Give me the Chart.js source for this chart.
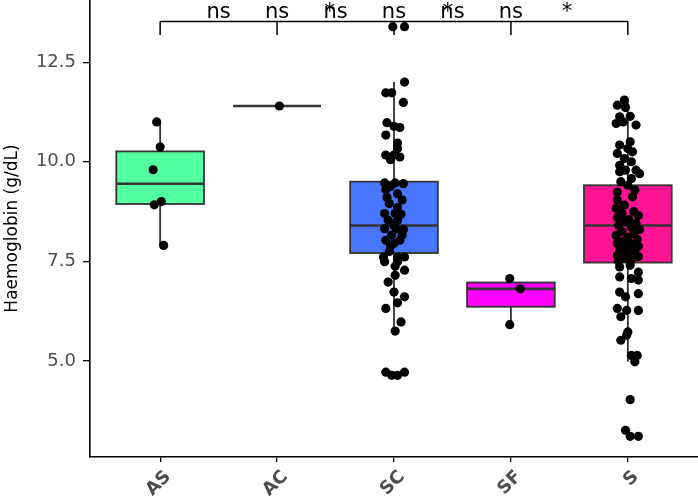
<!DOCTYPE html>
<html>
<head>
<meta charset="utf-8">
<script src="https://cdn.jsdelivr.net/npm/chart.js@4.4.1/dist/chart.umd.min.js"></script>
<style>
  body { margin: 0; background: #fff; }
  #wrap { width: 698px; height: 496px; }
</style>
</head>
<body>
<div id="wrap"><canvas id="grafico" width="698" height="496"></canvas></div>
<script>
// ===== dados =====
const categorias = ['AS', 'AC', 'SC', 'SF', 'S'];
const coresCaixa = ['#54FF9F', '#FFD700', '#4876FF', '#FF00FF', '#FF1493'];

// estatisticas das caixas
const q1 = [8.94, 11.40, 7.71, 6.36, 7.47];
const mediana = [9.45, 11.40, 8.40, 6.81, 8.40];
const q3 = [10.26, 11.40, 9.50, 6.97, 9.41];
const bigodeMin = [7.90, 11.40, 5.75, 5.91, 4.98];
const bigodeMax = [11.00, 11.40, 12.00, 7.07, 11.55];

const yTicks = [5.0, 7.5, 10.0, 12.5];

// pontos: [hemoglobina, jitter]
const pontosAS = [[11.00, -0.03], [10.37, 0.00], [9.80, -0.06], [9.00, 0.01], [8.92, -0.05], [7.90, 0.03]];
const pontosAC = [[11.40, 0.02]];
const pontosSC = [
  [13.39, -0.01], [13.39, 0.09], [12.00, 0.09], [11.73, -0.07], [11.73, -0.02], [11.49, 0.08],
  [10.98, -0.06], [10.89, 0.00], [10.86, 0.05], [10.67, -0.07], [10.47, 0.03], [10.33, 0.03],
  [10.17, -0.07], [10.17, 0.00], [10.12, 0.05], [10.05, -0.03], [9.47, -0.08], [9.47, 0.01],
  [9.45, 0.08], [9.38, -0.03], [9.30, -0.07], [9.20, 0.03], [9.10, -0.06], [9.04, 0.07],
  [8.95, -0.04], [8.85, 0.03], [8.70, -0.08], [8.70, 0.01], [8.68, 0.06], [8.53, -0.05],
  [8.53, 0.03], [8.40, 0.00], [8.32, -0.08], [8.32, 0.02], [8.30, 0.08], [8.16, -0.02],
  [8.16, 0.07], [8.03, -0.07], [8.03, 0.05], [7.95, 0.00], [7.88, -0.03], [7.75, -0.04],
  [7.61, -0.09], [7.61, 0.03], [7.61, 0.09], [7.49, -0.08], [7.49, 0.03], [7.38, 0.01],
  [7.28, 0.09], [7.15, 0.01], [6.98, -0.05], [6.73, 0.00], [6.61, 0.09], [6.46, 0.03],
  [6.32, -0.07], [5.98, 0.06], [5.75, 0.01], [4.72, -0.07], [4.64, -0.02], [4.64, 0.03],
  [4.72, 0.09]
];
const pontosSF = [[7.07, -0.01], [6.81, 0.08], [5.91, -0.01]];
const pontosS = [
  [11.55, -0.03], [11.42, -0.09], [11.36, -0.02], [11.13, -0.07], [11.14, 0.02], [10.96, -0.10],
  [11.00, -0.04], [10.92, 0.07], [10.50, 0.02], [10.42, -0.07], [10.33, 0.00], [10.21, -0.09],
  [10.25, 0.04], [10.08, -0.03], [9.91, -0.07], [10.00, 0.03], [9.79, 0.07], [9.79, -0.02],
  [9.75, -0.07], [9.70, 0.10], [9.58, 0.03], [9.50, -0.06], [9.41, 0.00], [9.29, 0.06],
  [9.24, -0.09], [9.12, 0.04], [9.04, -0.09], [8.91, -0.03], [8.83, -0.10], [8.75, 0.05],
  [8.70, -0.05], [8.65, 0.09], [8.60, -0.09], [8.55, 0.01], [8.50, -0.03], [8.45, 0.07],
  [8.40, -0.08], [8.35, 0.03], [8.30, 0.10], [8.25, -0.05], [8.20, 0.05], [8.15, -0.10],
  [8.10, 0.00], [8.05, 0.08], [8.00, -0.04], [7.95, -0.09], [7.92, 0.03], [7.88, 0.09],
  [7.83, -0.02], [7.78, -0.07], [7.75, 0.06], [7.70, 0.00], [7.65, -0.09], [7.62, 0.09],
  [7.58, -0.03], [7.54, 0.03], [7.50, -0.08], [7.40, 0.02], [7.36, -0.07], [7.23, 0.09],
  [7.11, -0.07], [7.07, 0.03], [7.03, 0.09], [6.73, -0.07], [6.61, -0.02], [6.69, 0.09],
  [6.32, -0.09], [6.27, -0.01], [6.27, 0.09], [6.11, -0.06], [5.73, 0.00], [5.65, -0.01],
  [5.52, -0.06], [5.14, 0.03], [5.14, 0.08], [4.98, 0.06], [4.03, 0.02], [3.26, -0.02],
  [3.11, 0.02], [3.11, 0.09]
];
const grupos = [pontosAS, pontosAC, pontosSC, pontosSF, pontosS];

// comparacoes (posicao x, texto)
const sigLinhaY = 13.52;
const sigTickY = 13.18;
const sigTextoY = 13.60;
const sigRotulos = [[1.5, 'ns'], [2, 'ns'], [2.5, 'ns'], [2.45, '*'], [3, 'ns'], [3.5, 'ns'], [3.46, '*'], [4, 'ns'], [4.48, '*']];

const larguraCaixa = 0.75;
const fonte = '"DejaVu Sans", Verdana, sans-serif';

/* =========================
   PLUGIN BOXPLOT
========================= */
const boxplotPlugin = {
  id: 'boxplot',
  beforeDatasetsDraw(chart) {
    const { ctx, scales: { x, y } } = chart;
    ctx.save();
    categorias.forEach((c, i) => {
      const cx = x.getPixelForValue(i + 1);
      const x0 = x.getPixelForValue(i + 1 - larguraCaixa / 2);
      const x1 = x.getPixelForValue(i + 1 + larguraCaixa / 2);
      ctx.strokeStyle = '#333333';
      // bigodes
      ctx.lineWidth = 1.8;
      ctx.beginPath();
      ctx.moveTo(cx, y.getPixelForValue(q3[i]));
      ctx.lineTo(cx, y.getPixelForValue(bigodeMax[i]));
      ctx.moveTo(cx, y.getPixelForValue(q1[i]));
      ctx.lineTo(cx, y.getPixelForValue(bigodeMin[i]));
      ctx.stroke();
      // caixa
      const yTop = y.getPixelForValue(q3[i]);
      const yBot = y.getPixelForValue(q1[i]);
      ctx.fillStyle = coresCaixa[i];
      ctx.fillRect(x0, yTop, x1 - x0, yBot - yTop);
      ctx.lineWidth = 1.8;
      ctx.strokeRect(x0, yTop, x1 - x0, yBot - yTop);
      // mediana
      ctx.lineWidth = 2.6;
      ctx.beginPath();
      ctx.moveTo(x0, y.getPixelForValue(mediana[i]));
      ctx.lineTo(x1, y.getPixelForValue(mediana[i]));
      ctx.stroke();
    });
    ctx.restore();
  },
  afterDatasetsDraw(chart) {
    const { ctx, scales: { x, y } } = chart;
    ctx.save();
    // colchete de significancia
    ctx.strokeStyle = '#000';
    ctx.lineWidth = 1.5;
    ctx.beginPath();
    ctx.moveTo(x.getPixelForValue(1), y.getPixelForValue(sigLinhaY));
    ctx.lineTo(x.getPixelForValue(5), y.getPixelForValue(sigLinhaY));
    categorias.forEach((c, i) => {
      ctx.moveTo(x.getPixelForValue(i + 1), y.getPixelForValue(sigLinhaY));
      ctx.lineTo(x.getPixelForValue(i + 1), y.getPixelForValue(sigTickY));
    });
    ctx.stroke();
    ctx.fillStyle = '#000';
    ctx.font = '21px ' + fonte;
    ctx.textAlign = 'center';
    ctx.textBaseline = 'alphabetic';
    sigRotulos.forEach(([pos, txt]) => {
      ctx.fillText(txt, x.getPixelForValue(pos), y.getPixelForValue(sigTextoY));
    });
    ctx.restore();
  },
  afterDraw(chart) {
    // rotulos do eixo x, girados 45 graus
    const { ctx, scales: { x } } = chart;
    ctx.save();
    ctx.fillStyle = '#4d4d4d';
    ctx.font = 'bold 18px ' + fonte;
    ctx.textAlign = 'right';
    ctx.textBaseline = 'middle';
    categorias.forEach((c, i) => {
      ctx.save();
      ctx.translate(x.getPixelForValue(i + 1) + 8, x.top + 17);
      ctx.rotate(-Math.PI / 4);
      ctx.fillText(c, 0, 0);
      ctx.restore();
    });
    ctx.restore();
  }
};

const datasets = grupos.map((pts, i) => ({
  label: categorias[i],
  data: pts.map(p => ({ x: i + 1 + p[1], y: p[0] })),
  backgroundColor: '#000',
  borderWidth: 0,
  pointRadius: 4.6,
  pointHoverRadius: 4.6
}));

new Chart(document.getElementById('grafico'), {
  type: 'scatter',
  data: { datasets },
  options: {
    responsive: false,
    animation: false,
    events: [],
    layout: { padding: 0, autoPadding: false },
    plugins: { legend: { display: false }, tooltip: { enabled: false } },
    scales: {
      x: {
        type: 'linear',
        min: 0.4,
        max: 5.6,
        afterBuildTicks: s => { s.ticks = categorias.map((c, i) => ({ value: i + 1 })); },
        ticks: { display: false },
        grid: { drawOnChartArea: false, drawTicks: true, tickLength: 5, color: '#000', lineWidth: 1.3 },
        border: { color: '#000', width: 1.6 },
        afterFit: s => { s.height = 39; s.paddingLeft = 0; s.paddingRight = 0; }
      },
      y: {
        min: 2.59,
        max: 14.06,
        afterBuildTicks: s => { s.ticks = yTicks.map(v => ({ value: v })); },
        ticks: {
          color: '#4d4d4d',
          padding: 7,
          font: { family: fonte, size: 18 },
          callback: v => v.toFixed(1)
        },
        grid: { drawOnChartArea: false, drawTicks: true, tickLength: 7, color: '#000', lineWidth: 1.3 },
        border: { color: '#000', width: 1.6 },
        title: {
          display: true,
          text: 'Haemoglobin (g/dL)',
          color: '#000',
          padding: { top: 2, bottom: 2 },
          font: { family: fonte, size: 17 }
        },
        afterFit: s => { s.width = 90; s.paddingTop = 0; s.paddingBottom = 0; }
      }
    }
  },
  plugins: [boxplotPlugin]
});
</script>
</body>
</html>
